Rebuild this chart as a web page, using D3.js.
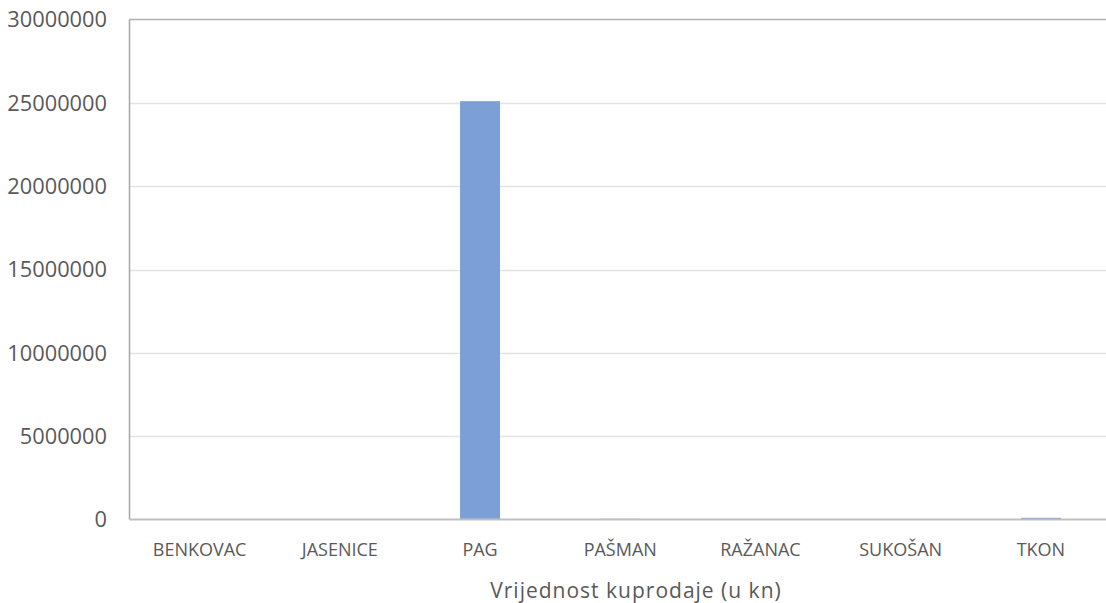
<!DOCTYPE html>
<html>
<head>
<meta charset="utf-8">
<script src="https://cdn.jsdelivr.net/npm/d3@7"></script>
<style>
  html, body { margin: 0; padding: 0; background: #fff; }
  svg { display: block; }
  text { font-family: "Open Sans", Lato, sans-serif; fill: #595959; }
</style>
</head>
<body>
<svg id="chart" width="1106" height="603"></svg>
<script>
const categories = ["BENKOVAC", "JASENICE", "PAG", "PAŠMAN", "RAŽANAC", "SUKOŠAN", "TKON"];
const values = [8000, 30000, 25100000, 40000, 5000, 8000, 100000];
const yTicks = [0, 5000000, 10000000, 15000000, 20000000, 25000000, 30000000];
const axisTitle = "Vrijednost kuprodaje (u kn)";

(function () {
const svg = d3.select("#chart");
const pLeft = 129.5, pRight = 1111, pTop = 19.5, pBottom = 519.5;

const x = d3.scaleBand().domain(categories).range([pLeft, pRight])
  .paddingInner(0.715).paddingOuter(0.3575);
const y = d3.scaleLinear().domain([0, 30000000]).range([pBottom, pTop]);

// gridlines
svg.append("g").selectAll("line").data(yTicks.filter(d => d > 0 && d < 30000000)).join("line")
  .attr("x1", pLeft).attr("x2", pRight)
  .attr("y1", d => Math.round(y(d)) + 0.5).attr("y2", d => Math.round(y(d)) + 0.5)
  .attr("stroke", "#e3e3e3").attr("stroke-width", 1.3);

// top border
svg.append("line").attr("x1", pLeft).attr("x2", pRight).attr("y1", y(30000000)).attr("y2", y(30000000))
  .attr("stroke", "#b0b0b0").attr("stroke-width", 1.3);

// bars
svg.append("g").selectAll("rect").data(categories.map((c, i) => ({c, v: values[i]}))).join("rect")
  .attr("x", d => x(d.c)).attr("width", x.bandwidth())
  .attr("y", d => y(d.v)).attr("height", d => pBottom - y(d.v))
  .attr("fill", "#7b9fd6");

// left border
svg.append("line").attr("x1", pLeft).attr("x2", pLeft).attr("y1", pTop).attr("y2", pBottom)
  .attr("stroke", "#a6a6a6").attr("stroke-width", 1.5);

// bottom axis line
svg.append("line").attr("x1", pLeft).attr("x2", pRight).attr("y1", pBottom).attr("y2", pBottom)
  .attr("stroke", "#bfbfbf").attr("stroke-width", 2);

// y tick labels
svg.append("g").selectAll("text").data(yTicks).join("text")
  .attr("x", 107).attr("y", d => y(d)).attr("dy", "0.36em")
  .attr("text-anchor", "end").attr("font-size", 21.8)
  .text(d => d3.format("d")(d));

// x labels
svg.append("g").selectAll("text").data(categories).join("text")
  .attr("x", d => x(d) + x.bandwidth() / 2).attr("y", 550).attr("dy", "0.36em")
  .attr("text-anchor", "middle").attr("font-size", 18)
  .text(d => d);

svg.append("text").attr("x", 636).attr("y", 590).attr("dy", "0.36em")
  .attr("text-anchor", "middle").attr("font-size", 21).attr("letter-spacing", 1)
  .text(axisTitle);
})();
</script>
</body>
</html>
